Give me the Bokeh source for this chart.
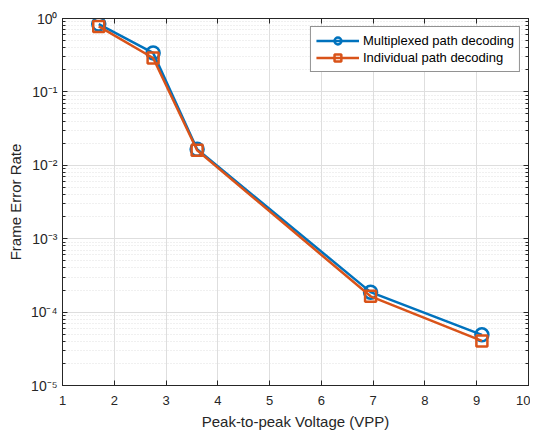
from bokeh.plotting import figure
from bokeh.models import (FixedTicker, CustomJSTickFormatter, LinearAxis, LogAxis,
                          Legend, LegendItem, Range1d, LogTicker)
from bokeh.embed import file_html
from bokeh.resources import INLINE

vpp = [1.70, 2.75, 3.60, 6.95, 9.10]
fer_multiplexed = [0.84, 0.34, 0.0165, 1.87e-4, 4.9e-5]
fer_individual = [0.78, 0.29, 0.016, 1.64e-4, 4.05e-5]
x_ticks = [1, 2, 3, 4, 5, 6, 7, 8, 9, 10]

BLUE = "#0072BD"
ORANGE = "#D95319"
FONT = "Liberation Sans"
AXC = "#262626"

p = figure(frame_width=466, frame_height=367, y_axis_type="log",
           x_range=Range1d(1, 10), y_range=Range1d(1e-5, 1),
           output_backend="svg", toolbar_location=None,
           min_border_left=62, min_border_right=2, min_border_top=18, min_border_bottom=0)
p.outline_line_color = AXC
p.outline_line_width = 1

# grids
p.xgrid.ticker = FixedTicker(ticks=x_ticks)
p.xgrid.grid_line_color = "#dedede"
p.ygrid.grid_line_color = "#dedede"
p.ygrid.ticker = LogTicker(desired_num_ticks=6, num_minor_ticks=10)
p.ygrid.minor_grid_line_color = "#e0e0e0"
p.ygrid.minor_grid_line_dash = "1 2"

fmt = CustomJSTickFormatter(code="""
const sup = {'-':'\u207b','0':'\u2070','1':'\u00b9','2':'\u00b2','3':'\u00b3','4':'\u2074','5':'\u2075','6':'\u2076','7':'\u2077','8':'\u2078','9':'\u2079'};
const e = Math.round(Math.log10(tick));
return '10' + String(e).split('').map(c => sup[c]).join('');
""")

for ax in [p.xaxis[0], p.yaxis[0]]:
    ax.major_tick_in = 5
    ax.major_tick_out = 0
    ax.minor_tick_in = 3
    ax.minor_tick_out = 0
    ax.axis_line_color = AXC
    ax.major_tick_line_color = AXC
    ax.minor_tick_line_color = AXC
    ax.major_label_text_font = FONT
    ax.major_label_text_font_size = "13px"
    ax.major_label_text_color = AXC
    ax.axis_label_text_font = FONT
    ax.axis_label_text_font_size = "15px"
    ax.axis_label_text_font_style = "normal"
    ax.axis_label_text_color = AXC

p.xaxis[0].ticker = FixedTicker(ticks=x_ticks)
p.xaxis[0].minor_tick_in = 0
p.xaxis[0].axis_label = "Peak-to-peak Voltage (VPP)"
p.xaxis[0].axis_label_standoff = 5
p.xaxis[0].major_label_standoff = 10
p.yaxis[0].ticker = LogTicker(desired_num_ticks=6, num_minor_ticks=10)
p.yaxis[0].formatter = fmt
p.yaxis[0].major_label_text_font_size = "14px"
p.yaxis[0].axis_label = "Frame Error Rate"
p.yaxis[0].axis_label_standoff = 4
p.yaxis[0].major_label_standoff = 5

# ticks on the top and right edges of the box (no labels)
blank = CustomJSTickFormatter(code="return '';")
top = LinearAxis(ticker=FixedTicker(ticks=x_ticks), formatter=blank,
                 major_tick_in=5, major_tick_out=0, minor_tick_in=0, minor_tick_out=0,
                 major_label_standoff=0, axis_line_color=AXC, major_tick_line_color=AXC)
right = LogAxis(ticker=LogTicker(desired_num_ticks=6, num_minor_ticks=10), formatter=blank,
                major_tick_in=5, major_tick_out=0, minor_tick_in=3, minor_tick_out=0,
                major_label_standoff=0, axis_line_color=AXC, major_tick_line_color=AXC,
                minor_tick_line_color=AXC)
p.add_layout(top, "above")
p.add_layout(right, "right")

l1 = p.line(vpp, fer_multiplexed, line_color=BLUE, line_width=2.5)
m1 = p.scatter(vpp, fer_multiplexed, marker="circle", size=13, fill_color=None,
               line_color=BLUE, line_width=2.5)
l2 = p.line(vpp, fer_individual, line_color=ORANGE, line_width=2.5)
m2 = p.scatter(vpp, fer_individual, marker="square", size=11, fill_color=None,
               line_color=ORANGE, line_width=2.5)

legend = Legend(items=[LegendItem(label="Multiplexed path decoding", renderers=[l1, m1]),
                       LegendItem(label="Individual path decoding", renderers=[l2, m2])],
                location="top_right", label_text_font=FONT, label_text_font_size="13px",
                label_text_color="#000000", border_line_color=AXC,
                background_fill_alpha=1, glyph_width=43, glyph_height=17,
                label_height=17, spacing=0, padding=5, margin=8, label_standoff=4)
p.add_layout(legend)

open("out.html", "w").write(file_html(p, INLINE))
